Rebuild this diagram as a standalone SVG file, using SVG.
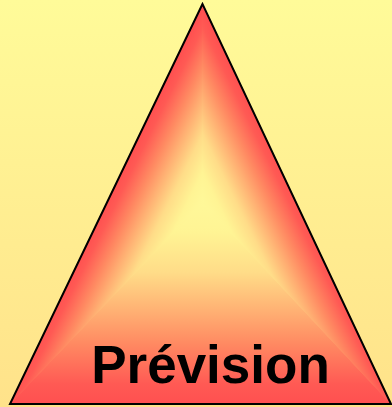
<svg xmlns="http://www.w3.org/2000/svg" width="392" height="407" viewBox="0 0 392 407">
<defs>
<linearGradient id="bg" x1="0" y1="0" x2="0" y2="1">
<stop offset="0" stop-color="#FFFB99"/>
<stop offset="1" stop-color="#FFE28A"/>
</linearGradient>
<linearGradient id="gB" gradientUnits="userSpaceOnUse" x1="202" y1="404" x2="202" y2="202">
<stop offset="0" stop-color="#FF5050"/>
<stop offset="0.1" stop-color="#FF5A54"/>
<stop offset="0.3" stop-color="#FF8A62"/>
<stop offset="0.45" stop-color="#FFAE72"/>
<stop offset="0.65" stop-color="#FFDC88"/>
<stop offset="0.85" stop-color="#FFF494"/>
<stop offset="1" stop-color="#FFF899"/>
</linearGradient>
<linearGradient id="gL" gradientUnits="userSpaceOnUse" x1="125.6" y1="164" x2="202.5" y2="202">
<stop offset="0" stop-color="#FF5050"/>
<stop offset="0.1" stop-color="#FF5A54"/>
<stop offset="0.3" stop-color="#FF8A62"/>
<stop offset="0.45" stop-color="#FFAE72"/>
<stop offset="0.65" stop-color="#FFDC88"/>
<stop offset="0.85" stop-color="#FFF494"/>
<stop offset="1" stop-color="#FFF899"/>
</linearGradient>
<linearGradient id="gR" gradientUnits="userSpaceOnUse" x1="279.8" y1="164" x2="202.5" y2="202">
<stop offset="0" stop-color="#FF5050"/>
<stop offset="0.1" stop-color="#FF5A54"/>
<stop offset="0.3" stop-color="#FF8A62"/>
<stop offset="0.45" stop-color="#FFAE72"/>
<stop offset="0.65" stop-color="#FFDC88"/>
<stop offset="0.85" stop-color="#FFF494"/>
<stop offset="1" stop-color="#FFF899"/>
</linearGradient>
<style>
.lbl{font-family:"Liberation Sans",Arial,sans-serif;font-weight:bold;font-size:53px;fill:#000;}
</style>
</defs>
<rect width="392" height="407" fill="url(#bg)"/>
<g id="triangle">
<polygon points="202.5,202 10,404 391,404" fill="url(#gB)" stroke="url(#gB)" stroke-width="1"/>
<polygon points="202.5,202 202.5,4 10,404" fill="url(#gL)" stroke="url(#gL)" stroke-width="1"/>
<polygon points="202.5,202 202.5,4 391,404" fill="url(#gR)" stroke="url(#gR)" stroke-width="1"/>
<polygon points="202.5,4 10,404 391,404" fill="none" stroke="#000" stroke-width="2" stroke-linejoin="miter"/>
</g>
<g id="label">
<text class="lbl" x="210.5" y="383" text-anchor="middle">Prévision</text>
</g>
</svg>
